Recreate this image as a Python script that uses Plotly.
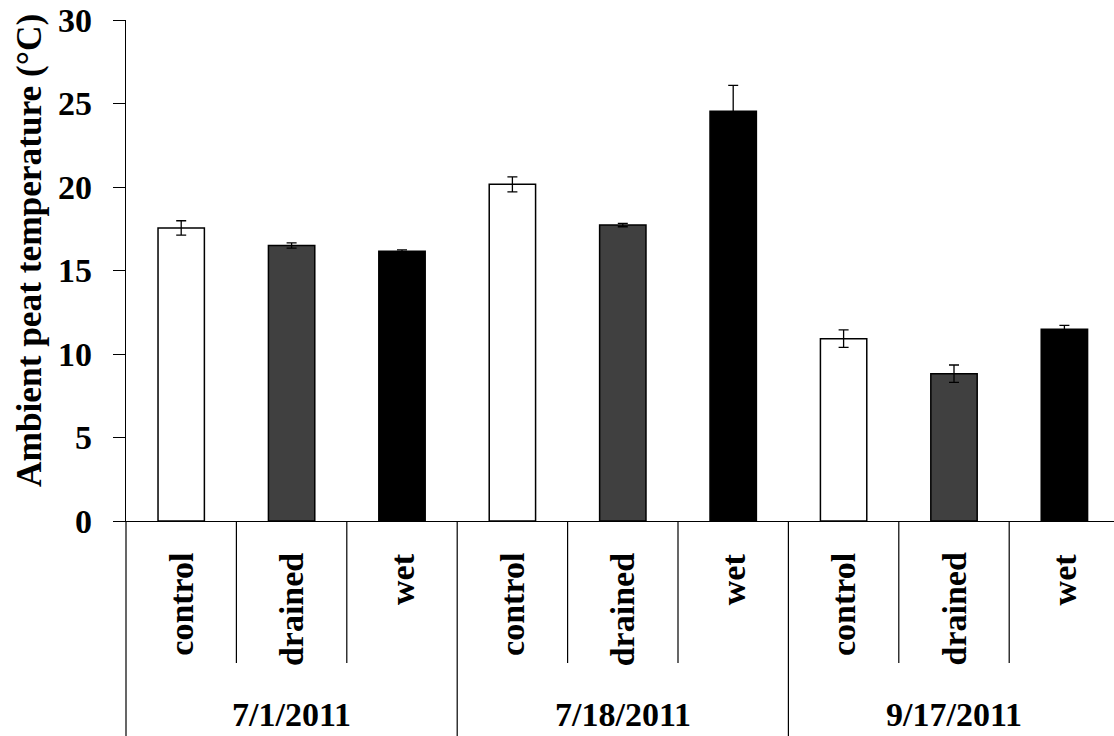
import plotly.graph_objects as go

# Sampling dates and peat treatments
dates = ["7/1/2011", "7/18/2011", "9/17/2011"]
treatments = ["control", "drained", "wet"]

# Mean ambient peat temperature (°C) per treatment, one value per date
control_temp = [17.55, 20.16, 10.92]
drained_temp = [16.50, 17.72, 8.82]
wet_temp = [16.15, 24.53, 11.48]

# Standard errors
control_err = [0.43, 0.45, 0.52]
drained_err = [0.16, 0.10, 0.52]
wet_err = [0.08, 1.55, 0.24]

y_ticks = [0, 5, 10, 15, 20, 25, 30]

fill_colors = {"control": "#ffffff", "drained": "#404040", "wet": "#000000"}

means = {"control": control_temp, "drained": drained_temp, "wet": wet_temp}
errs = {"control": control_err, "drained": drained_err, "wet": wet_err}

# One bar per (date, treatment), ordered date-major
cats, vals, evals, cols = [], [], [], []
for di, d in enumerate(dates):
    for t in treatments:
        cats.append(f"{d} {t}")
        vals.append(means[t][di])
        evals.append(errs[t][di])
        cols.append(fill_colors[t])

FONT = "Liberation Serif"
W, H = 1114, 736
ML, MR, MT, MB = 126, 0, 20, 215
plot_h = H - MT - MB

fig = go.Figure(
    go.Bar(
        x=cats,
        y=vals,
        marker=dict(color=cols, line=dict(color="#000000", width=1.5)),
        error_y=dict(type="data", array=evals, visible=True,
                     color="#000000", thickness=1.3, width=5),
        showlegend=False,
    )
)

n = len(cats)
# the last category runs a few pixels past the right edge of the page
cat_px = 110.4
x_hi = n - 0.5 - (ML + n * cat_px - W) / cat_px


def py(px):
    """Pixel row -> paper y coordinate."""
    return (H - MB - px) / plot_h


shapes = []
annotations = []

# Short dividers between treatments, long dividers between dates
for i in range(n + 1):
    if i % len(treatments) == 0:
        y_end = py(H + 2)
    else:
        y_end = py(663)
    if i == 0:
        shapes.append(dict(type="line", xref="paper", yref="paper", x0=0, x1=0,
                           y0=0, y1=y_end, line=dict(color="#000000", width=1.2)))
    else:
        shapes.append(dict(type="line", xref="x", yref="paper", x0=i - 0.5, x1=i - 0.5,
                           y0=0, y1=y_end, line=dict(color="#000000", width=1.2)))

# Treatment labels, rotated, end of word aligned under the axis
for i, c in enumerate(cats):
    t = treatments[i % len(treatments)]
    annotations.append(dict(
        x=c, xref="x", y=py(551), yref="paper", text=t, textangle=-90,
        showarrow=False, xanchor="center", yanchor="top",
        font=dict(family=FONT, size=34, color="#000000", weight="bold"),
    ))

# Date labels centred under each group
for di, d in enumerate(dates):
    mid = cats[di * len(treatments) + len(treatments) // 2]
    annotations.append(dict(
        x=mid, xref="x", y=py(714), yref="paper", text=d,
        showarrow=False, xanchor="center", yanchor="middle",
        font=dict(family=FONT, size=34, color="#000000", weight="bold"),
    ))

# Y axis title
annotations.append(dict(
    x=(30 - ML) / (W - ML - MR), xref="paper", y=py(251), yref="paper",
    text="Ambient peat temperature (°C)", textangle=-90, showarrow=False,
    xanchor="center", yanchor="middle",
    font=dict(family=FONT, size=35.3, color="#000000", weight="bold"),
))

fig.update_layout(
    width=W, height=H,
    margin=dict(l=ML, r=MR, t=MT, b=MB, pad=0),
    paper_bgcolor="#ffffff", plot_bgcolor="#ffffff",
    bargap=0.58,
    shapes=shapes,
    annotations=annotations,
    xaxis=dict(
        type="category", range=[-0.5, x_hi],
        showticklabels=False, ticks="", showgrid=False, zeroline=False,
        showline=True, linecolor="#000000", linewidth=1.2,
        fixedrange=True,
    ),
    yaxis=dict(
        range=[0, 30], tickvals=y_ticks, ticktext=[str(v) for v in y_ticks],
        ticks="outside", ticklen=12, tickwidth=1.2, tickcolor="#000000",
        showline=True, linecolor="#000000", linewidth=1.2,
        showgrid=False, zeroline=False,
        tickfont=dict(family=FONT, size=34, color="#000000", weight="bold"),
        ticklabelstandoff=14,
    ),
)

fig.write_html("out.html")
